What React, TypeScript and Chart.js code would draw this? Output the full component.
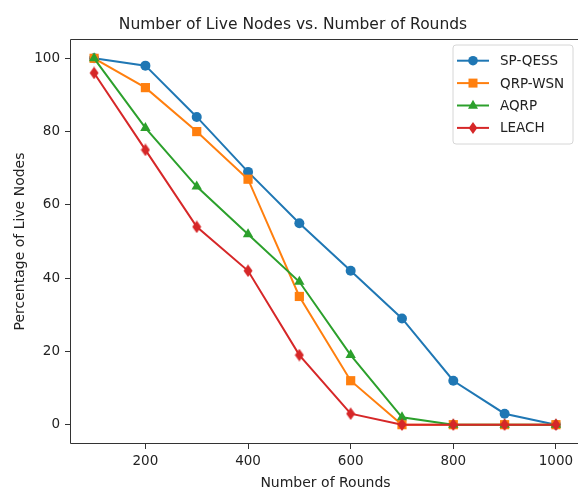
import React, { useEffect, useRef } from 'react';
import { Chart, registerables } from 'chart.js';

Chart.register(...registerables);

const rounds = [100, 200, 300, 400, 500, 600, 700, 800, 900, 1000];
const spQess = [100, 98, 84, 69, 55, 42, 29, 12, 3, 0];
const qrpWsn = [100, 92, 80, 67, 35, 12, 0, 0, 0, 0];
const aqrp = [100, 81, 65, 52, 39, 19, 2, 0, 0, 0];
const leach = [96, 75, 54, 42, 19, 3, 0, 0, 0, 0];

const seriesNames = ['SP-QESS', 'QRP-WSN', 'AQRP', 'LEACH'];
const seriesColors = ['#1f77b4', '#ff7f0e', '#2ca02c', '#d62728'];
const seriesMarkers = ['circle', 'rect', 'triangle', 'diamond'];

const xTicks = [200, 400, 600, 800, 1000];
const yTicks = [0, 20, 40, 60, 80, 100];

const titleText = 'Number of Live Nodes vs. Number of Rounds';
const xLabel = 'Number of Rounds';
const yLabel = 'Percentage of Live Nodes';

const FONT = '"DejaVu Sans", sans-serif';

function makeDiamond(color: string): HTMLCanvasElement {
  const c = document.createElement('canvas');
  c.width = 10;
  c.height = 13;
  const g = c.getContext('2d')!;
  g.fillStyle = color;
  g.beginPath();
  g.moveTo(5, 0.3);
  g.lineTo(9.5, 6.5);
  g.lineTo(5, 12.7);
  g.lineTo(0.5, 6.5);
  g.closePath();
  g.fill();
  return c;
}

function drawMarker(ctx: CanvasRenderingContext2D, kind: string, x: number, y: number, color: string) {
  ctx.save();
  ctx.fillStyle = color;
  ctx.beginPath();
  if (kind === 'circle') {
    ctx.arc(x, y, 4.8, 0, Math.PI * 2);
  } else if (kind === 'rect') {
    ctx.rect(x - 4.5, y - 4.5, 9, 9);
  } else if (kind === 'triangle') {
    ctx.moveTo(x, y - 5.8);
    ctx.lineTo(x + 5, y + 3.2);
    ctx.lineTo(x - 5, y + 3.2);
    ctx.closePath();
  } else {
    ctx.moveTo(x, y - 6);
    ctx.lineTo(x + 4.3, y);
    ctx.lineTo(x, y + 6);
    ctx.lineTo(x - 4.3, y);
    ctx.closePath();
  }
  ctx.fill();
  ctx.restore();
}

const decorPlugin = {
  id: 'decor',
  afterDatasetsDraw(chart: any) {
    const ctx: CanvasRenderingContext2D = chart.ctx;
    const a = chart.chartArea;
    ctx.save();
    // spines (left, top, bottom)
    ctx.strokeStyle = '#333';
    ctx.lineWidth = 1;
    ctx.beginPath();
    ctx.moveTo(a.right + 2, a.top - 0.5);
    ctx.lineTo(a.left - 0.5, a.top - 0.5);
    ctx.lineTo(a.left - 0.5, a.bottom + 0.5);
    ctx.lineTo(a.right + 2, a.bottom + 0.5);
    ctx.stroke();

    // legend
    const lx = 453, ly = 45, lw = 120, lh = 99;
    ctx.beginPath();
    const r = 3;
    ctx.moveTo(lx + r, ly);
    ctx.lineTo(lx + lw - r, ly);
    ctx.arcTo(lx + lw, ly, lx + lw, ly + r, r);
    ctx.lineTo(lx + lw, ly + lh - r);
    ctx.arcTo(lx + lw, ly + lh, lx + lw - r, ly + lh, r);
    ctx.lineTo(lx + r, ly + lh);
    ctx.arcTo(lx, ly + lh, lx, ly + lh - r, r);
    ctx.lineTo(lx, ly + r);
    ctx.arcTo(lx, ly, lx + r, ly, r);
    ctx.closePath();
    ctx.fillStyle = 'rgba(255,255,255,0.85)';
    ctx.fill();
    ctx.strokeStyle = '#d6d6d6';
    ctx.lineWidth = 1;
    ctx.stroke();

    ctx.font = '13.5px ' + FONT;
    ctx.textBaseline = 'middle';
    ctx.textAlign = 'left';
    for (let i = 0; i < seriesNames.length; i++) {
      const yy = 60.7 + i * 22.4;
      ctx.strokeStyle = seriesColors[i];
      ctx.lineWidth = 2;
      ctx.beginPath();
      ctx.moveTo(457, yy);
      ctx.lineTo(489, yy);
      ctx.stroke();
      drawMarker(ctx, seriesMarkers[i], 473, yy, seriesColors[i]);
      ctx.fillStyle = '#222';
      ctx.fillText(seriesNames[i], 500, yy + 1);
    }

    // title
    ctx.fillStyle = '#222';
    ctx.textAlign = 'center';
    ctx.textBaseline = 'alphabetic';
    ctx.font = '15.5px ' + FONT;
    ctx.fillText(titleText, 293, 29);

    // axis labels
    ctx.font = '14px ' + FONT;
    ctx.fillText(xLabel, (a.left + 580) / 2, 487);
    ctx.save();
    ctx.translate(24, (a.top + a.bottom) / 2);
    ctx.rotate(-Math.PI / 2);
    ctx.fillText(yLabel, 0, 0);
    ctx.restore();
    ctx.restore();
  },
};

export default function App() {
  const ref = useRef<HTMLCanvasElement | null>(null);

  useEffect(() => {
    if (!ref.current) return;
    const seriesValues = [spQess, qrpWsn, aqrp, leach];
    const datasets = seriesValues.map((vals, i) => {
      const m = seriesMarkers[i];
      const ps: any = m === 'diamond' ? makeDiamond(seriesColors[i]) : m;
      const radius = m === 'circle' ? 5 : m === 'rect' ? 6.5 : m === 'triangle' ? 6 : 5.5;
      return {
        label: seriesNames[i],
        data: rounds.map((x, j) => ({ x, y: vals[j] })),
        borderColor: seriesColors[i],
        backgroundColor: seriesColors[i],
        pointBackgroundColor: seriesColors[i],
        pointBorderColor: seriesColors[i],
        pointBorderWidth: 0,
        borderWidth: 2,
        pointStyle: ps,
        pointRadius: radius,
        pointHoverRadius: radius,
        tension: 0,
        order: seriesNames.length - 1 - i,
      };
    });

    const chart = new Chart(ref.current, {
      type: 'line',
      data: { datasets },
      plugins: [decorPlugin],
      options: {
        animation: false,
        responsive: false,
        devicePixelRatio: 1,
        layout: { padding: { top: 40, left: 0, right: 0, bottom: 0 }, autoPadding: false },
        plugins: {
          legend: { display: false },
          title: { display: false },
          tooltip: { enabled: false },
        },
        scales: {
          x: {
            type: 'linear',
            min: 55,
            max: 1043,
            afterBuildTicks: (s: any) => {
              s.ticks = xTicks.map((v) => ({ value: v }));
            },
            afterFit: (s: any) => {
              s.height = 46;
            },
            border: { display: false },
            grid: { display: true, drawOnChartArea: false, drawTicks: true, tickLength: 6, color: '#333', lineWidth: 1 },
            ticks: {
              color: '#222',
              font: { family: FONT, size: 13.5 },
              padding: 4,
              maxRotation: 0,
              autoSkip: false,
              callback: (v: any) => String(v),
            },
          },
          y: {
            type: 'linear',
            min: -5,
            max: 105,
            afterBuildTicks: (s: any) => {
              s.ticks = yTicks.map((v) => ({ value: v }));
            },
            afterFit: (s: any) => {
              s.width = 71;
            },
            border: { display: false },
            grid: { display: true, drawOnChartArea: false, drawTicks: true, tickLength: 6, color: '#333', lineWidth: 1 },
            ticks: {
              color: '#222',
              font: { family: FONT, size: 13.5 },
              padding: 5,
              autoSkip: false,
              callback: (v: any) => String(v),
            },
          },
        },
      } as any,
    });
    return () => chart.destroy();
  }, []);

  return (
    <div style={{ position: 'absolute', left: 0, top: 0, width: 578, height: 489, background: '#fff' }}>
      <canvas ref={ref} width={578} height={489} style={{ display: 'block' }} />
    </div>
  );
}
